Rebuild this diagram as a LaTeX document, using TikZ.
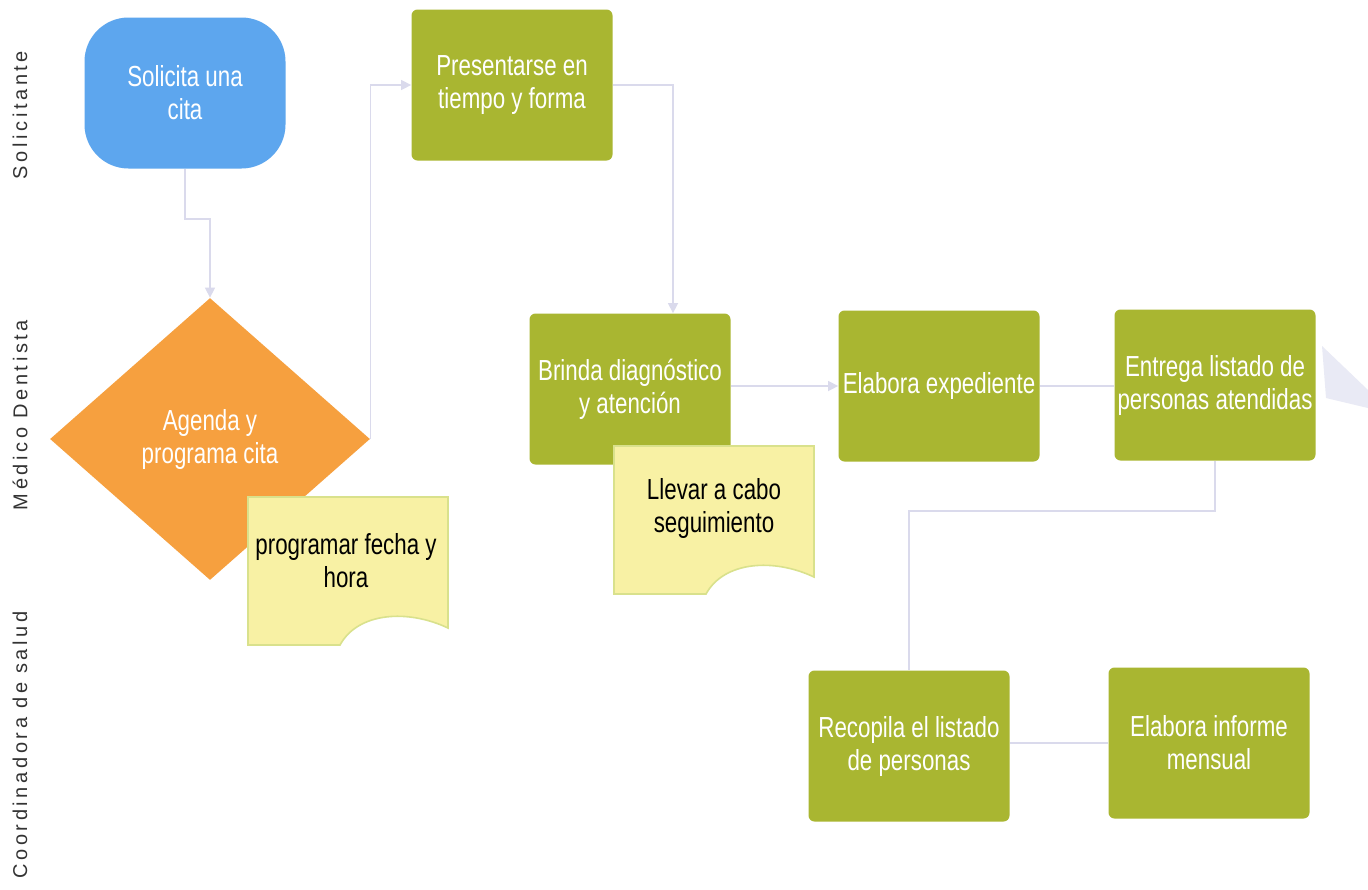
\documentclass[tikz,border=0pt]{standalone}
\usepackage{fontspec}
\setmainfont{Liberation Sans}
\newfontfamily\boxfont[FakeStretch=0.77]{Liberation Sans}
\newfontfamily\lanefont[LetterSpace=18]{Liberation Sans}
\usetikzlibrary{shapes.geometric,arrows.meta}

\definecolor{solblue}{HTML}{5DA6EE}
\definecolor{agorange}{HTML}{F6A03F}
\definecolor{actgreen}{HTML}{A9B631}
\definecolor{noteyellow}{HTML}{F8F1A4}
\definecolor{noteedge}{HTML}{D9E18C}
\definecolor{linkgray}{HTML}{DADAEC}
\definecolor{blobblue}{HTML}{E9EAF5}

\begin{document}
\begin{tikzpicture}[x=0.5pt,y=-0.5pt,
  act/.style={rectangle, rounded corners=3pt, fill=actgreen, text=white,
    font=\boxfont\fontsize{14.5}{16.5}\selectfont, align=center,
    minimum width=100.5pt, minimum height=75.5pt, inner sep=0pt},
  start/.style={act, fill=solblue, rounded corners=22pt},
  decide/.style={diamond, fill=agorange, text=white,
    font=\boxfont\fontsize{14.5}{16.5}\selectfont, align=center,
    minimum width=160pt, minimum height=141pt, inner sep=0pt},
  notetext/.style={text=black, font=\boxfont\fontsize{14.5}{16.5}\selectfont,
    align=center, inner sep=0pt},
  lane/.style={rotate=90, text=black!80, font=\lanefont\fontsize{10}{12}\selectfont},
  conn/.style={draw=linkgray, line width=0.7pt},
  tip/.style={-{Triangle[length=5pt,width=5pt,fill=linkgray]}}]

  \useasboundingbox[fill=white] (0,0) rectangle (1368,889);

  % lanes
  \node[lane] (lsol) at (20,115) {Solicitante};
  \node[lane] (lmed) at (20,415) {Médico Dentista};
  \node[lane] (lcoo) at (20,745) {Coordinadora de salud};

  % solicitante
  \node[start] (sol) at (185,93) {Solicita una\\cita};
  \node[act] (pres) at (512,85) {Presentarse en\\tiempo y forma};

  % medico
  \node[decide] (agenda) at (210,439) {Agenda y\\programa cita};
  \node[act] (brinda) at (630,389) {Brinda diagnóstico\\y atención};
  \node[act] (elab) at (939,386) {Elabora expediente};
  \node[act] (entrega) at (1215,385) {Entrega listado de\\personas atendidas};

  % notas
  \coordinate (n1) at (248,497);
  \coordinate (n2) at (614,446);
  \foreach \n in {n1,n2}
    \filldraw[fill=noteyellow, draw=noteedge, line width=0.8pt]
      (\n) -- ([shift={(200,0)}]\n) -- ([shift={(200,131)}]\n)
      .. controls ([shift={(160,112)}]\n) and ([shift={(110,115)}]\n) .. ([shift={(92,148)}]\n)
      -- ([shift={(0,148)}]\n) -- cycle;
  \node[notetext] (fecha) at ([shift={(98,64)}]n1) {programar fecha y\\hora};
  \node[notetext] (segui) at ([shift={(100,62)}]n2) {Llevar a cabo\\seguimiento};

  % coordinadora
  \node[act] (recop) at (909,746) {Recopila el listado\\de personas};
  \node[act] (inform) at (1209,743) {Elabora informe\\mensual};

  % cut-off shape at the right edge
  \fill[blobblue] (1322,346) -- (1368,390) -- (1368,408) -- (1326,398) -- cycle;

  % connectors
  \draw[conn,tip] (sol.south) -- ++(0,50) -| (agenda.north);
  \draw[conn,tip] (agenda.east) |- (pres.west);
  \draw[conn,tip] (pres.east) -| ([xshift=21.5pt]brinda.north);
  \draw[conn,tip] (elab.west -| brinda.east) -- (elab.west);
  \draw[conn] (elab.east) -- (elab.east -| entrega.west);
  \draw[conn] (entrega.south) -- ++(0,50) -| (recop.north);
  \draw[conn] (inform.west -| recop.east) -- (inform.west);

\end{tikzpicture}
\end{document}
